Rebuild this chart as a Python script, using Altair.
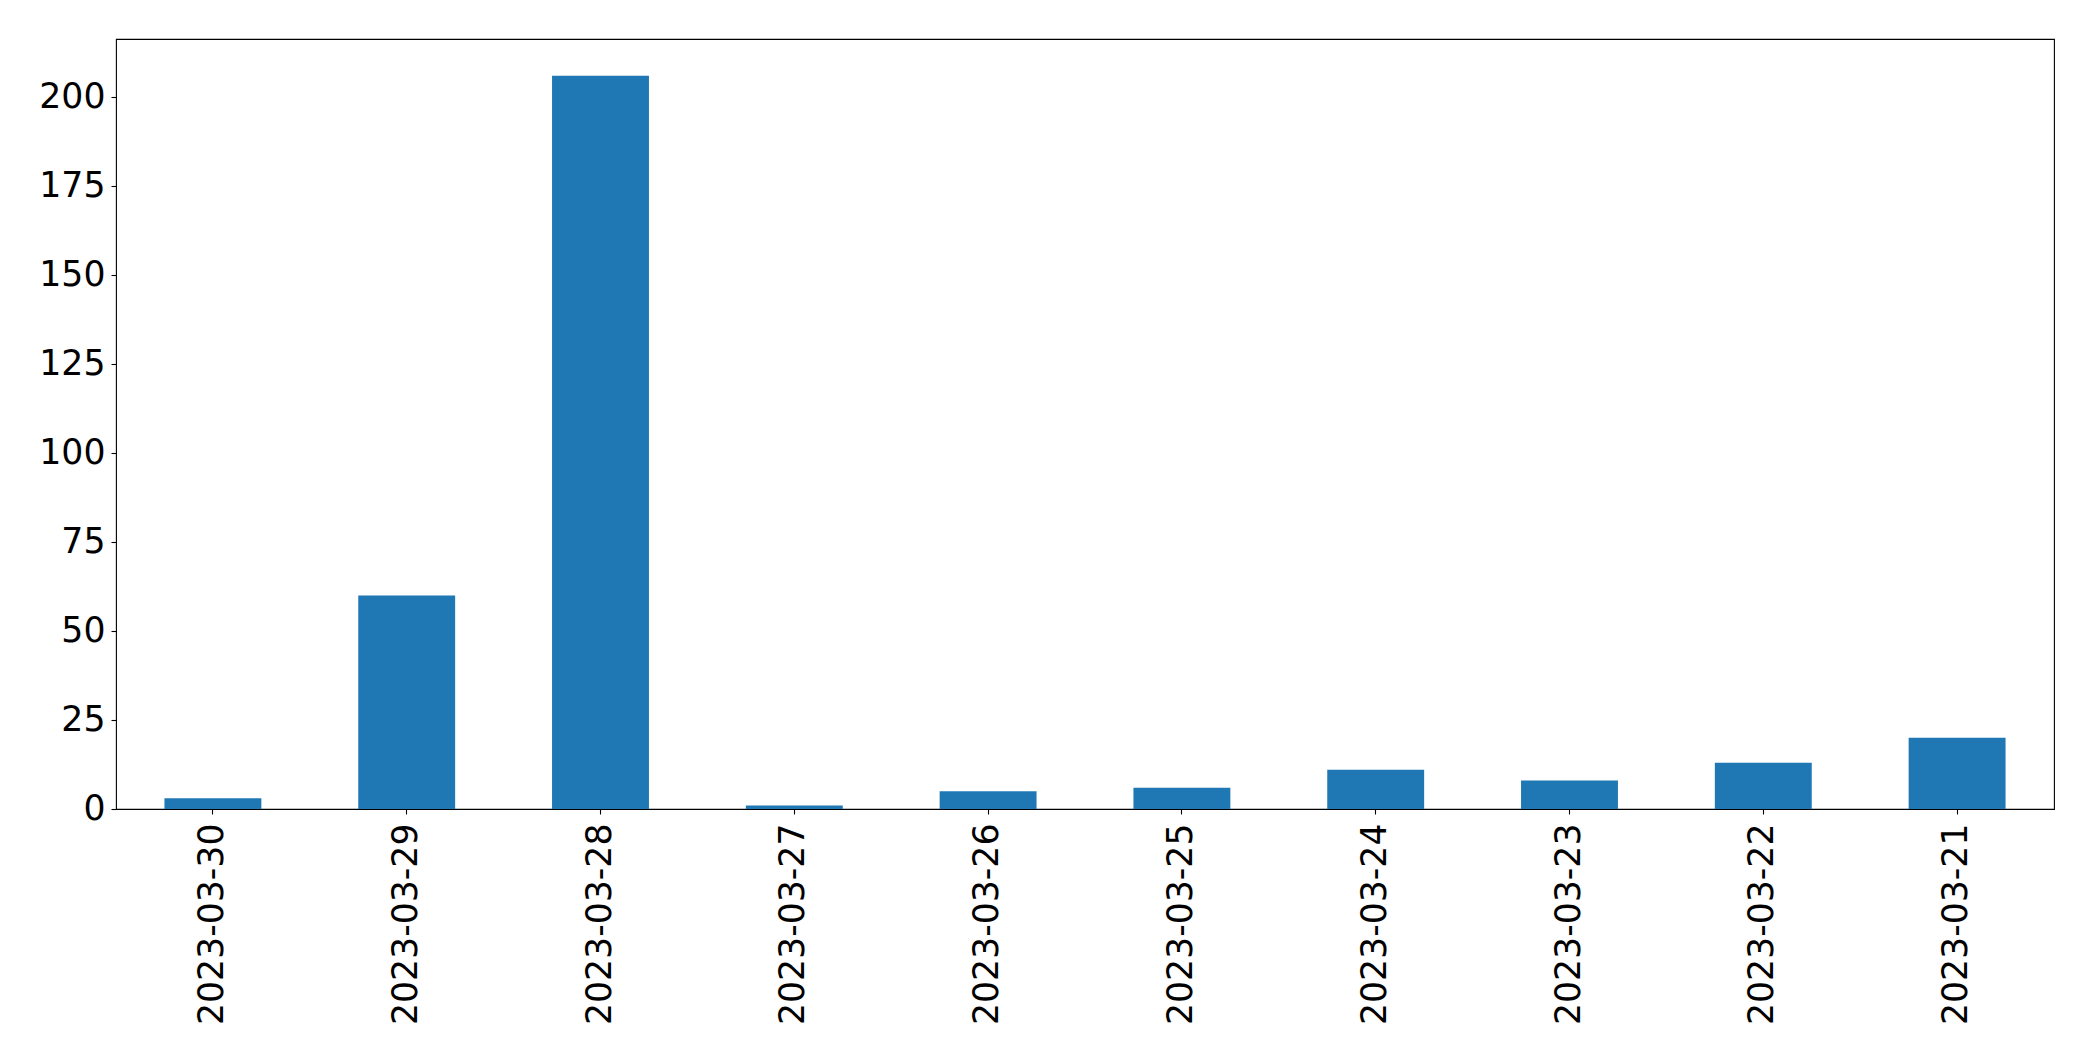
import altair as alt
import pandas as pd

dates = ["2023-03-30", "2023-03-29", "2023-03-28", "2023-03-27", "2023-03-26",
         "2023-03-25", "2023-03-24", "2023-03-23", "2023-03-22", "2023-03-21"]
counts = [3, 60, 206, 1, 5, 6, 11, 8, 13, 20]
y_ticks = [0, 25, 50, 75, 100, 125, 150, 175, 200]

df = pd.DataFrame({"date": dates, "count": counts})

FONT = "DejaVu Sans"
FS = 34.7

chart = alt.Chart(df).mark_bar(color="#1f77b4").encode(
    x=alt.X("date:N", sort=dates,
            scale=alt.Scale(paddingInner=0.5, paddingOuter=0.25),
            axis=alt.Axis(title=None, labelAngle=270, labelFont=FONT, labelFontSize=FS,
                          labelColor="black", tickColor="black", tickSize=5, tickWidth=1.1,
                          domain=False, labelPadding=9, grid=False, labelLimit=0)),
    y=alt.Y("count:Q", scale=alt.Scale(domain=[0, 216.3], nice=False, zero=True),
            axis=alt.Axis(title=None, values=y_ticks, labelFont=FONT, labelFontSize=FS,
                          labelColor="black", tickColor="black", tickSize=5, tickWidth=1.1,
                          domain=False, labelPadding=6, grid=False)),
).properties(
    width=1938, height=770,
    autosize=alt.AutoSizeParams(type="none"),
    padding={"left": 108, "top": 31, "right": 30, "bottom": 230},
).configure(
    background="white"
).configure_view(
    stroke="black", strokeWidth=1.1
)

chart.save("out.html", embed_options={"renderer": "svg", "actions": False})
